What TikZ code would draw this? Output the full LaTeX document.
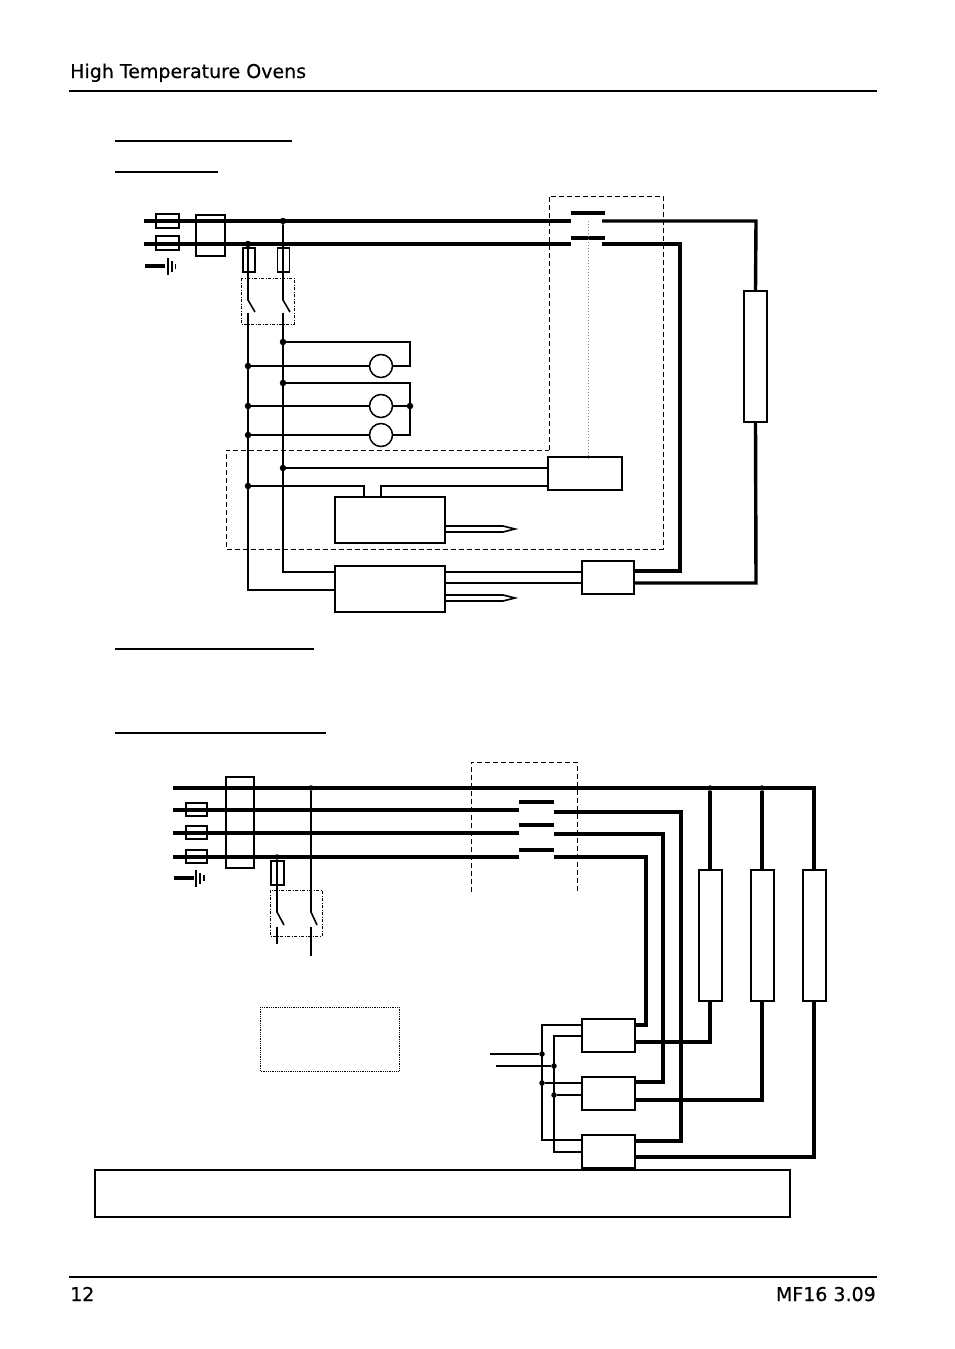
\documentclass[tikz,border=0pt]{standalone}
\usepackage{fontspec}
\setmainfont[FakeBold=0.5]{DejaVu Sans}

\begin{document}
\begin{tikzpicture}[x=1pt,y=-1pt,
    bus/.style={line width=3.4pt},
    wire/.style={line width=1.6pt},
    thin wire/.style={line width=1.1pt},
    heavy/.style={draw,line width=2pt,inner sep=0pt,outer sep=0pt},
    plain/.style={draw,line width=1.2pt,inner sep=0pt,outer sep=0pt},
    lamp/.style={draw,circle,line width=1.5pt,minimum size=23pt,inner sep=0pt,outer sep=0pt},
    dot/.style={fill=black,circle,minimum size=6.5pt,inner sep=0pt,outer sep=0pt},
    dashbox/.style={line width=1pt,dash pattern=on 5pt off 3pt},
    dashdotbox/.style={line width=0.9pt,dash pattern=on 3pt off 1.5pt on 1pt off 1.5pt},
    rule/.style={line width=1.4pt},
    pagetext/.style={inner sep=0pt,font=\fontsize{19}{22}\selectfont}]
    \useasboundingbox (0,0) rectangle (954,1349);

    % page header and footer
    \node[pagetext,anchor=base west] (title) at (70,78) {High Temperature Ovens};
    \node[pagetext,anchor=base west] (pageno) at (70,1301) {12};
    \node[pagetext,anchor=base east] (model) at (876,1301) {MF16 3.09};
    \draw[line width=2.3pt] (69,91) -- (877,91);
    \draw[line width=2.3pt] (69,1277) -- (877,1277);
    \draw[rule] (115,141) -- (292,141);
    \draw[line width=2pt] (115,172) -- (218,172);
    \draw[line width=2pt] (115,649) -- (314,649);
    \draw[line width=2pt] (115,733) -- (326,733);

    % first circuit: boxes
    \node[plain,minimum width=23pt,minimum height=14pt] (fuseA) at (167.5,221) {};
    \node[plain,minimum width=23pt,minimum height=14pt] (fuseB) at (167.5,243) {};
    \node[heavy,minimum width=29pt,minimum height=41pt] (filterA) at (210.5,235.5) {};
    \node[heavy,minimum width=12pt,minimum height=24pt] (fuseC) at (248.5,260) {};
    \node[plain,minimum width=12pt,minimum height=24pt] (fuseD) at (283.5,260) {};
    \node[plain,minimum width=74pt,minimum height=33pt] (relayA) at (585,473.5) {};
    \node[heavy,minimum width=110pt,minimum height=46pt] (ctrlA) at (390,520) {};
    \node[heavy,minimum width=110pt,minimum height=46pt] (ctrlB) at (390,589) {};
    \node[heavy,minimum width=52pt,minimum height=33pt] (triacA) at (608,577.5) {};
    \node[heavy,minimum width=23pt,minimum height=131pt] (heatA) at (755.5,356.5) {};
    \node[lamp] (lampA) at (381,366) {};
    \node[lamp] (lampB) at (381,406) {};
    \node[lamp] (lampC) at (381,435) {};

    % first circuit: points
    \node[dot] (ja) at (283,221) {};
    \node[dot] (jb) at (248,244) {};
    \node[dot] (jc) at (283,342) {};
    \node[dot] (jd) at (248,366) {};
    \node[dot] (je) at (283,383) {};
    \node[dot] (jf) at (248,406) {};
    \node[dot] (jg) at (410,406) {};
    \node[dot] (jh) at (248,435) {};
    \node[dot] (ji) at (283,468) {};
    \node[dot] (jj) at (248,486) {};
    \coordinate (aL) at (144,221);
    \coordinate (aC) at (571,221);
    \coordinate (aR) at (602,221);
    \coordinate (aE) at (756,221);
    \coordinate (bL) at (144,244);
    \coordinate (bC) at (571,244);
    \coordinate (bR) at (602,244);
    \coordinate (bE) at (680,244);
    \coordinate (swa) at (248,300);
    \coordinate (swb) at (255,312);
    \coordinate (swc) at (248,313);
    \coordinate (swd) at (283,300);
    \coordinate (swe) at (290,312);
    \coordinate (swf) at (283,313);
    \coordinate (la) at (410,342);
    \coordinate (lb) at (410,366);
    \coordinate (lc) at (410,381);
    \coordinate (ld) at (410,435);
    \coordinate (ca) at (364,486);
    \coordinate (cb) at (381,486);
    \coordinate (wa) at (283,572);
    \coordinate (wb) at (248,590);
    \coordinate (heatAb) at (756,583);
    \coordinate (traA) at (680,571);

    % first circuit: wiring
    \draw[bus] (aL) -- (aC);
    \draw[bus] (bL) -- (bC);
    \draw[bus] (aR) -- (aE) -- (heatA.north);
    \draw[bus] (bR) -- (bE) -- (traA) -- (traA -| triacA.east);
    \draw[bus] (heatA.south) -- (heatAb) -- (heatAb -| triacA.east);
    \draw[bus] (571,213) -- (605,213);
    \draw[bus] (571,238) -- (605,238);
    \draw[wire] (jb) -- (swa) -- (swb);
    \draw[wire] (ja) -- (swd) -- (swe);
    \draw[wire] (swc) -- (wb) -- (wb -| ctrlB.west);
    \draw[wire] (swf) -- (wa) -- (wa -| ctrlB.west);
    \draw[thin wire] (jc) -- (la) -- (lb) -- (lampA.east);
    \draw[wire] (jd) -- (lampA.west);
    \draw[wire] (je) -- (je -| lc) -- (ld) -- (lampC.east);
    \draw[wire] (jf) -- (lampB.west);
    \draw[wire] (lampB.east) -- (jg);
    \draw[wire] (jh) -- (lampC.west);
    \draw[wire] (ji) -- (ji -| relayA.west);
    \draw[wire] (jj) -- (ca) -- (ca |- ctrlA.north);
    \draw[wire] (cb |- ctrlA.north) -- (cb) -- (cb -| relayA.west);
    \draw[wire] (445,572) -- (582,572);
    \draw[wire] (445,583) -- (582,583);
    \draw[wire] (445,526) -- (503,526) -- (515,529) -- (503,532) -- (445,532);
    \draw[wire] (445,595) -- (503,595) -- (515,598) -- (503,601) -- (445,601);
    \draw[gray,line width=1pt,dotted] (588.5,221) -- (588.5,459);

    % earth symbols
    \draw[bus] (145,266) -- (165,266);
    \draw[line width=1.7pt] (168,258) -- (168,275);
    \draw[line width=1.4pt] (172,261) -- (172,272);
    \draw[line width=1.4pt] (175.5,264) -- (175.5,269);
    \draw[bus] (174,878) -- (194,878);
    \draw[line width=1.7pt] (196,870) -- (196,887);
    \draw[line width=1.4pt] (200,873) -- (200,884);
    \draw[line width=1.4pt] (204,875) -- (204,881);

    % dashed frames
    \draw[dashbox] (549,450) -- (549,196) -- (663,196) -- (663,549) -- (226,549) -- (226,450) -- cycle;
    \draw[dashdotbox] (241,278) rectangle (294,324);
    \draw[dashdotbox] (270,890) rectangle (322,936);
    \draw[dashbox] (471,892) -- (471,762) -- (577,762) -- (577,892);
    \draw[line width=0.8pt,densely dotted] (260,1007) rectangle (399,1071);

    % second circuit: boxes
    \node[heavy,minimum width=28pt,minimum height=91pt] (filterB) at (240,822.5) {};
    \node[plain,minimum width=21pt,minimum height=13pt] (fuseE) at (196.5,809.5) {};
    \node[plain,minimum width=21pt,minimum height=13pt] (fuseF) at (196.5,832.5) {};
    \node[plain,minimum width=21pt,minimum height=13pt] (fuseG) at (196.5,856.5) {};
    \node[plain,minimum width=13pt,minimum height=24pt] (fuseH) at (277.5,873) {};
    \node[heavy,minimum width=23pt,minimum height=131pt] (heatB) at (710,935) {};
    \node[heavy,minimum width=23pt,minimum height=131pt] (heatC) at (762,935) {};
    \node[heavy,minimum width=23pt,minimum height=131pt] (heatD) at (814,935) {};
    \node[heavy,minimum width=53pt,minimum height=33pt] (triacB) at (608.5,1035.5) {};
    \node[heavy,minimum width=53pt,minimum height=33pt] (triacC) at (608.5,1093.5) {};
    \node[heavy,minimum width=53pt,minimum height=33pt] (triacD) at (608.5,1151.5) {};
    \node[plain,minimum width=695pt,minimum height=47pt] (notebox) at (442.5,1193.5) {};

    % second circuit: points
    \node[dot,minimum size=5.5pt] (jk) at (311,788) {};
    \node[dot,minimum size=5.5pt] (jl) at (277,857) {};
    \node[dot,minimum size=5.5pt] (jm) at (710,788) {};
    \node[dot,minimum size=5.5pt] (jn) at (762,788) {};
    \node[dot,minimum size=5.5pt] (jo) at (542,1054) {};
    \node[dot,minimum size=5.5pt] (jp) at (554,1066) {};
    \node[dot,minimum size=5.5pt] (jq) at (542,1083) {};
    \node[dot,minimum size=5.5pt] (jr) at (554,1095) {};
    \coordinate (nL) at (173,788);
    \coordinate (nE) at (814,788);
    \coordinate (dL) at (173,810);
    \coordinate (dC) at (519,810);
    \coordinate (dR) at (554,812);
    \coordinate (dE) at (681,812);
    \coordinate (eL) at (173,833);
    \coordinate (eC) at (519,833);
    \coordinate (eR) at (554,834);
    \coordinate (eE) at (663,834);
    \coordinate (fL) at (173,857);
    \coordinate (fC) at (519,857);
    \coordinate (fR) at (554,857);
    \coordinate (fE) at (646,857);
    \coordinate (sga) at (277,912);
    \coordinate (sgb) at (284,925);
    \coordinate (sgc) at (277,927);
    \coordinate (sgd) at (277,944);
    \coordinate (sha) at (311,912);
    \coordinate (shb) at (317,925);
    \coordinate (shc) at (311,927);
    \coordinate (shd) at (311,956);
    \coordinate (ga) at (646,1025);
    \coordinate (gb) at (663,1082);
    \coordinate (gc) at (681,1141);
    \coordinate (ha) at (710,1042);
    \coordinate (hb) at (762,1100);
    \coordinate (hc) at (814,1157);
    \coordinate (ka) at (542,1025);
    \coordinate (kb) at (542,1140);
    \coordinate (ma) at (554,1036);
    \coordinate (mb) at (554,1152);
    \coordinate (ina) at (490,1054);
    \coordinate (inb) at (496,1066);

    % second circuit: wiring
    \draw[bus] (nL) -- (nE) -- (heatD.north);
    \draw[bus] (jm) -- (heatB.north);
    \draw[bus] (jn) -- (heatC.north);
    \draw[bus] (dL) -- (dC);
    \draw[bus] (eL) -- (eC);
    \draw[bus] (fL) -- (fC);
    \draw[bus] (dR) -- (dE) -- (gc) -- (gc -| triacD.east);
    \draw[bus] (eR) -- (eE) -- (gb) -- (gb -| triacC.east);
    \draw[bus] (fR) -- (fE) -- (ga) -- (ga -| triacB.east);
    \draw[bus] (heatB.south) -- (ha) -- (ha -| triacB.east);
    \draw[bus] (heatC.south) -- (hb) -- (hb -| triacC.east);
    \draw[bus] (heatD.south) -- (hc) -- (hc -| triacD.east);
    \draw[bus] (519,802) -- (554,802);
    \draw[bus] (519,825) -- (554,825);
    \draw[bus] (519,850) -- (554,850);
    \draw[wire] (jl) -- (sga) -- (sgb);
    \draw[wire] (jk) -- (sha) -- (shb);
    \draw[wire] (sgc) -- (sgd);
    \draw[wire] (shc) -- (shd);
    \draw[line width=1.9pt] (ka -| triacB.west) -- (ka) -- (kb) -- (kb -| triacD.west);
    \draw[line width=1.9pt] (ma -| triacB.west) -- (ma) -- (mb) -- (mb -| triacD.west);
    \draw[wire] (ina) -- (jo);
    \draw[wire] (inb) -- (jp);
    \draw[wire] (jq) -- (jq -| triacC.west);
    \draw[wire] (jr) -- (jr -| triacC.west);
\end{tikzpicture}
\end{document}
